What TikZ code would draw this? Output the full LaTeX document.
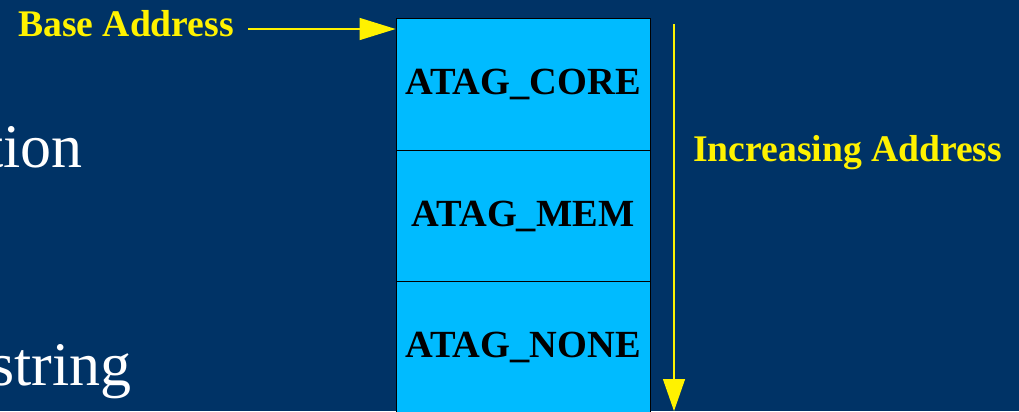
\documentclass[tikz,border=0pt]{standalone}
\usepackage{fontspec}
\setmainfont{Liberation Serif}
\usetikzlibrary{positioning, arrows.meta}
\definecolor{bgblue}{RGB}{0,51,102}
\definecolor{tagcyan}{RGB}{0,187,255}

\begin{document}
\begin{tikzpicture}[x=0.75pt, y=-0.75pt, node distance=-0.6pt,
    tagbox/.style={draw=black, line width=0.6pt, fill=tagcyan, minimum width=190.5pt,
        minimum height=98.6pt, inner sep=0pt, font=\fontsize{28.8}{31}\selectfont\bfseries},
    note/.style={text=yellow, inner sep=0pt, font=\fontsize{28.2}{30}\selectfont\bfseries},
    slide/.style={text=white, inner sep=0pt, font=\fontsize{46.5}{50}\selectfont},
    pointer/.style={draw=yellow, line width=1pt, -{Triangle[length=27pt, width=16.5pt]}}]
    \fill[bgblue] (0,0) rectangle (1019,411);
    \useasboundingbox (0,0) rectangle (1019,411);

    \node[slide, anchor=base east] (tion)   at (83,167)  {tion};
    \node[slide, anchor=base east] (string) at (132,385) {string};

    \node[tagbox]               (core) at (523,84.5) {ATAG\_CORE};
    \node[tagbox, below=of core] (mem)  {ATAG\_MEM};
    \node[tagbox, below=of mem]  (none) {ATAG\_NONE};

    \node[note, anchor=base west] (base) at (18,36)  {Base Address};
    \node[note, anchor=base west] (inc)  at (693,161) {Increasing Address};

    \coordinate (basestart) at (248,29);
    \coordinate (baseend)   at (core.west |- basestart);
    \coordinate (inctop)    at (674,24);
    \coordinate (incend)    at (674,411);
    \draw[pointer] (basestart) -- (baseend);
    \draw[pointer, -{Triangle[length=24pt, width=16.5pt]}] (inctop) -- (incend);
\end{tikzpicture}
\end{document}
